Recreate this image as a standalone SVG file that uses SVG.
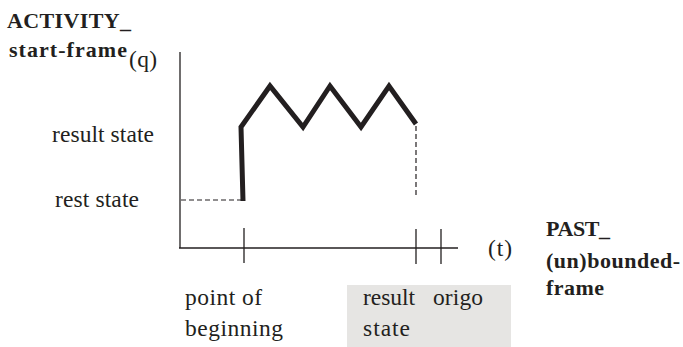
<svg xmlns="http://www.w3.org/2000/svg" width="683" height="347" viewBox="0 0 683 347">
<style>
.t{font-family:"Liberation Serif","Noto Serif","DejaVu Serif",serif;font-size:23.5px;fill:#231f20}
.b{font-family:"Liberation Serif","Noto Serif","DejaVu Serif",serif;font-size:22px;font-weight:bold;fill:#231f20}
.ax{stroke:#231f20;stroke-width:1.3;fill:none}
.dash{stroke:#231f20;stroke-width:1.2;stroke-dasharray:5,3;fill:none}
.thick{stroke:#231f20;stroke-width:5;fill:none;stroke-linejoin:miter}
</style>
<rect x="347" y="285" width="164" height="62" fill="#e6e5e3"/>
<g id="connectors">
<line class="ax" x1="180" y1="52" x2="180" y2="248"/>
<line class="ax" x1="179" y1="248" x2="458" y2="248"/>
<line class="ax" x1="244" y1="228" x2="244" y2="263"/>
<line class="ax" x1="416" y1="229" x2="416" y2="264"/>
<line class="ax" x1="441" y1="229" x2="441" y2="264"/>
<line class="dash" x1="181" y1="200" x2="242" y2="200"/>
<line class="dash" x1="416" y1="126" x2="416" y2="197"/>
<polyline class="thick" points="243,201 241,127 270,86 303,127 330,86 361,127 389,86 416,124"/>
</g>
<g id="label-activity">
<text class="b" x="7" y="28" textLength="124">ACTIVITY_</text>
<text class="b" x="9" y="57" textLength="118">start-frame</text>
<text class="t" x="129" y="67" textLength="28">(q)</text>
</g>
<g id="label-result-state"><text class="t" x="52" y="142" textLength="102">result state</text></g>
<g id="label-rest-state"><text class="t" x="55" y="207" textLength="84">rest state</text></g>
<g id="label-t"><text class="t" x="488" y="256" textLength="24">(t)</text></g>
<g id="label-past">
<text class="b" x="546" y="236" textLength="64">PAST_</text>
<text class="b" x="546" y="268" textLength="134">(un)bounded-</text>
<text class="b" x="546" y="295" textLength="58">frame</text>
</g>
<g id="label-point">
<text class="t" x="185" y="305" textLength="77">point of</text>
<text class="t" x="185" y="336" textLength="98">beginning</text>
</g>
<g id="label-result-origo">
<text class="t" x="363" y="305" textLength="52">result</text>
<text class="t" x="433" y="305" textLength="50">origo</text>
<text class="t" x="363" y="336" textLength="47">state</text>
</g>
</svg>
